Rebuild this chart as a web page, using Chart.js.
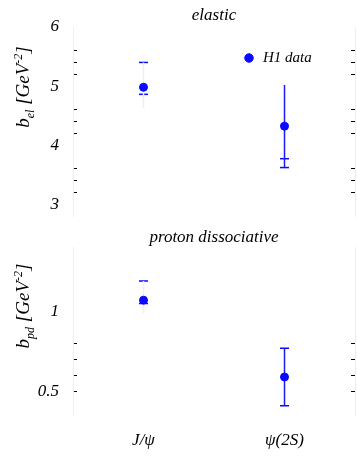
<!DOCTYPE html>
<html><head><meta charset="utf-8">
<script src="https://cdn.jsdelivr.net/npm/chart.js@4.4.0/dist/chart.umd.min.js"></script>
<style>
html,body{margin:0;padding:0;background:#fff;}
#wrap{position:relative;width:357px;height:459px;overflow:hidden;background:#fff;}
canvas{position:absolute;left:0;}
#c1{top:0;}
#c2{top:226px;}
.yt{position:absolute;font-family:'Liberation Serif',serif;font-style:italic;font-size:19px;color:#000;white-space:nowrap;transform:translate(-50%,-50%) rotate(-90deg);line-height:1;}
.yt sub,.yt sup{font-size:12px;}
</style></head>
<body><div id="wrap">
<canvas id="c1" width="357" height="230"></canvas>
<canvas id="c2" width="357" height="233"></canvas>
<div class="yt" style="left:24px;top:87px;">b<sub>el</sub> [GeV<sup>-2</sup>]</div>
<div class="yt" style="left:24px;top:306px;">b<sub>pd</sub> [GeV<sup>-2</sup>]</div>
</div>
<script>
// ---- data ----
const categories = ['J/ψ', 'ψ(2S)'];
const seriesName = 'H1 data';
// elastic slope b_el
const elValues    = [4.98, 4.32];
const elErrTop    = [5.40, 5.02];
const elErrBottom = [4.63, 3.62];
const elCapTop    = [5.40, null];
const elCapBottom = [4.86, 3.62];
const elCapInner  = [null, 3.77];
// proton dissociative slope b_pd
const pdValues    = [1.07, 0.59];
const pdErrTop    = [1.19, 0.77];
const pdErrBottom = [0.99, 0.41];
const pdCapTop    = [1.19, 0.77];
const pdCapBottom = [1.05, 0.41];
// tick labels
const elTickLabels = ['3', '4', '5', '6'];
const pdTickLabels = ['0.5', '1'];

// ---- styling ----
const BLUE = '#0a0aff';
const errLineColors = ['#eeeefa', '#1a1aff'];
const SERIF = "'Liberation Serif', 'Times New Roman', serif";
Chart.defaults.font.family = SERIF;
Chart.defaults.color = '#000';

function errorDatasets(top, bottom, capSets) {
  const sets = [];
  categories.forEach((c, i) => {
    sets.push({
      label: 'err', type: 'line', order: 2,
      data: [{x: c, y: bottom[i]}, {x: c, y: top[i]}],
      borderColor: errLineColors[i], borderWidth: 1.5, pointRadius: 0, showLine: true
    });
  });
  capSets.forEach(arr => {
    sets.push({
      label: 'cap', type: 'line', order: 3, showLine: false,
      data: arr, pointStyle: 'line', pointRadius: 4.5, pointBorderWidth: 1.5,
      borderColor: BLUE, backgroundColor: BLUE
    });
  });
  return sets;
}

function makeChart(id, cfg) {
  const {values, top, bottom, caps, min, max, step, labels, tickVisible, title, titlePad, layoutPad, showX, xHeight, legend} = cfg;
  const yCommon = {
    type: 'linear', min, max,
    border: {display: true, color: '#efefef', width: 1},
    grid: {drawOnChartArea: false, drawTicks: true, tickLength: -4, tickWidth: 1,
      tickColor: ctx => tickVisible(ctx.tick.value) ? '#000' : 'rgba(0,0,0,0)'}
  };
  return new Chart(document.getElementById(id), {
    type: 'line',
    data: {
      labels: categories,
      datasets: [{
        label: seriesName, order: 0, showLine: false, data: values,
        pointStyle: 'circle', pointRadius: 4, pointBackgroundColor: BLUE, pointBorderColor: BLUE,
        borderColor: BLUE, backgroundColor: BLUE, pointBorderWidth: 1
      }].concat(errorDatasets(top, bottom, caps))
    },
    options: {
      responsive: false, animation: false, devicePixelRatio: 1,
      layout: {padding: layoutPad, autoPadding: false},
      scales: {
        x: {
          type: 'category', offset: true, display: showX,
          grid: {display: false, drawTicks: false}, border: {display: false},
          afterFit: s => { if (xHeight) s.height = xHeight; },
          ticks: {padding: 15, maxRotation: 0, font: {size: 17, style: 'italic', family: SERIF}, color: '#000'}
        },
        y: Object.assign({}, yCommon, {
          position: 'left',
          afterFit: s => { s.width = 73; s.paddingTop = 0; s.paddingBottom = 0; },
          ticks: {stepSize: step, autoSkip: false, padding: 18,
            font: {size: 17, style: 'italic', family: SERIF}, color: '#000',
            callback: v => { const s = String(Math.round(v * 100) / 100); return labels.includes(s) ? s : ''; }}
        }),
        yr: Object.assign({}, yCommon, {
          position: 'right',
          afterFit: s => { s.width = 2; s.paddingTop = 0; s.paddingBottom = 0; },
          ticks: {stepSize: step, autoSkip: false, display: false}
        })
      },
      plugins: {
        tooltip: {enabled: false},
        title: {display: true, text: title, fullSize: false, color: '#000',
          font: {family: SERIF, style: 'italic', size: 17, weight: 'normal'}, padding: titlePad},
        legend: legend ? {
          display: true, position: 'chartArea', align: 'start',
          title: {display: true, text: '', font: {size: 1}, padding: {top: -120.2, bottom: 0}},
          labels: {
            usePointStyle: true, boxWidth: 13, boxHeight: 6, padding: 169.5, color: '#000',
            font: {family: SERIF, style: 'italic', size: 15},
            filter: item => item.datasetIndex === 0
          }
        } : {display: false}
      }
    }
  });
}

makeChart('c1', {
  values: elValues, top: elErrTop, bottom: elErrBottom,
  caps: [elCapTop, elCapBottom, elCapInner],
  min: 2.8, max: 6.0, step: 0.2, labels: elTickLabels,
  tickVisible: v => [2, 4, 6].includes(Math.round(v * 10) % 10),
  title: 'elastic', titlePad: {top: 5, bottom: 1.6},
  layoutPad: {top: 0, bottom: 14, left: 0, right: 0}, showX: false, xHeight: 0, legend: true
});

makeChart('c2', {
  values: pdValues, top: pdErrTop, bottom: pdErrBottom,
  caps: [pdCapTop, pdCapBottom],
  min: 0.35, max: 1.4, step: 0.1, labels: pdTickLabels,
  tickVisible: v => { const k = Math.round(v * 100); return k >= 40 && k <= 80 && k % 10 === 0; },
  title: 'proton dissociative', titlePad: {top: 1, bottom: 0},
  layoutPad: {top: 0, bottom: 0, left: 0, right: 0}, showX: true, xHeight: 43.6, legend: false
});
</script>
</body></html>
